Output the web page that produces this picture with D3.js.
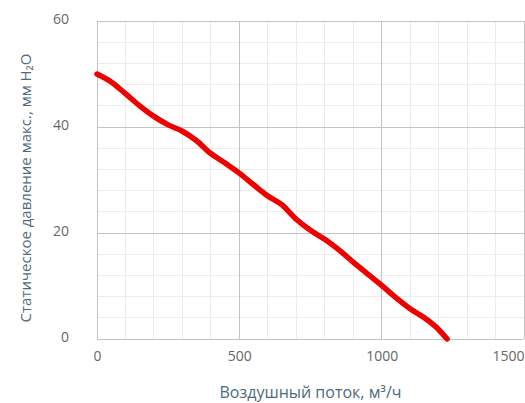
<!DOCTYPE html>
<html><head><meta charset="utf-8">
<script src="https://cdn.jsdelivr.net/npm/d3@7"></script>
<style>
html,body{margin:0;padding:0;background:#fff;}
svg{display:block;font-family:"Open Sans",sans-serif;}
</style></head>
<body><svg id="c" width="525" height="403"></svg>
<script>
const flow = [0,50,100,150,200,250,300,350,400,450,500,550,600,650,700,750,800,850,900,950,1000,1050,1100,1150,1200,1230];
const pressure = [50,48.5,46.3,44.0,42.0,40.4,39.2,37.4,35.0,33.2,31.3,29.1,27.0,25.3,22.6,20.5,18.8,16.8,14.5,12.3,10.1,7.8,5.7,4.0,1.8,0];
const xTicks = [0,500,1000,1500];
const yTicks = [0,20,40,60];
const xTitle = "Воздушный поток, м³/ч";
const yTitle = "Статическое давление макс., мм H₂O";

const svg = d3.select("#c");
const m = {l:97, r:524, t:21, b:339};
const x = d3.scaleLinear().domain([0,1500]).range([m.l,m.r]);
const y = d3.scaleLinear().domain([0,60]).range([m.b,m.t]);

const g = svg.append("g");
g.selectAll(".vx").data(d3.range(0,1501,100)).join("line")
  .attr("x1",d=>x(d)).attr("x2",d=>x(d)).attr("y1",m.t).attr("y2",m.b)
  .attr("stroke","#ececec").attr("stroke-width",1).attr("shape-rendering","crispEdges");
g.selectAll(".hy").data(d3.range(0,61,4)).join("line")
  .attr("x1",m.l).attr("x2",m.r).attr("y1",d=>y(d)).attr("y2",d=>y(d))
  .attr("stroke","#ececec").attr("stroke-width",1).attr("shape-rendering","crispEdges");
g.selectAll(".mx").data(xTicks).join("line")
  .attr("x1",d=>x(d)).attr("x2",d=>x(d)).attr("y1",m.t).attr("y2",m.b)
  .attr("stroke","#c4c4c4").attr("shape-rendering","crispEdges");
g.selectAll(".my").data(yTicks).join("line")
  .attr("x1",m.l).attr("x2",m.r).attr("y1",d=>y(d)).attr("y2",d=>y(d))
  .attr("stroke","#c4c4c4").attr("shape-rendering","crispEdges");

const xa = svg.append("g").attr("transform",`translate(0,${m.b})`)
  .call(d3.axisBottom(x).tickValues(xTicks).tickFormat(d3.format("d")).tickSize(0).tickPadding(12));
xa.select(".domain").remove();
xa.selectAll("text").attr("font-size",14).attr("fill","#666").attr("font-family","Open Sans")
  .attr("text-anchor",(d,i)=>i===xTicks.length-1?"end":"middle");
const ya = svg.append("g").attr("transform",`translate(${m.l},0)`)
  .call(d3.axisLeft(y).tickValues(yTicks).tickFormat(d3.format("d")).tickSize(0).tickPadding(28));
ya.select(".domain").remove();
ya.selectAll("text").attr("font-size",14).attr("fill","#666").attr("font-family","Open Sans")
  .attr("dy","0.2em");

svg.append("text").attr("x",(m.l+m.r)/2).attr("y",398).attr("text-anchor","middle")
  .attr("font-size",16).attr("fill","#4d6b7b").text(xTitle);
svg.append("text").attr("transform",`translate(31,188) rotate(-90)`).attr("text-anchor","middle")
  .attr("font-size",15).attr("fill","#4d6b7b").text(yTitle);

const line = d3.line().x((d,i)=>x(flow[i])).y(d=>y(d)).curve(d3.curveMonotoneX);
svg.append("path").datum(pressure).attr("d",line).attr("fill","none")
  .attr("stroke","#ee0000").attr("stroke-width",5.5).attr("stroke-linecap","round").attr("stroke-linejoin","round");
</script></body></html>
